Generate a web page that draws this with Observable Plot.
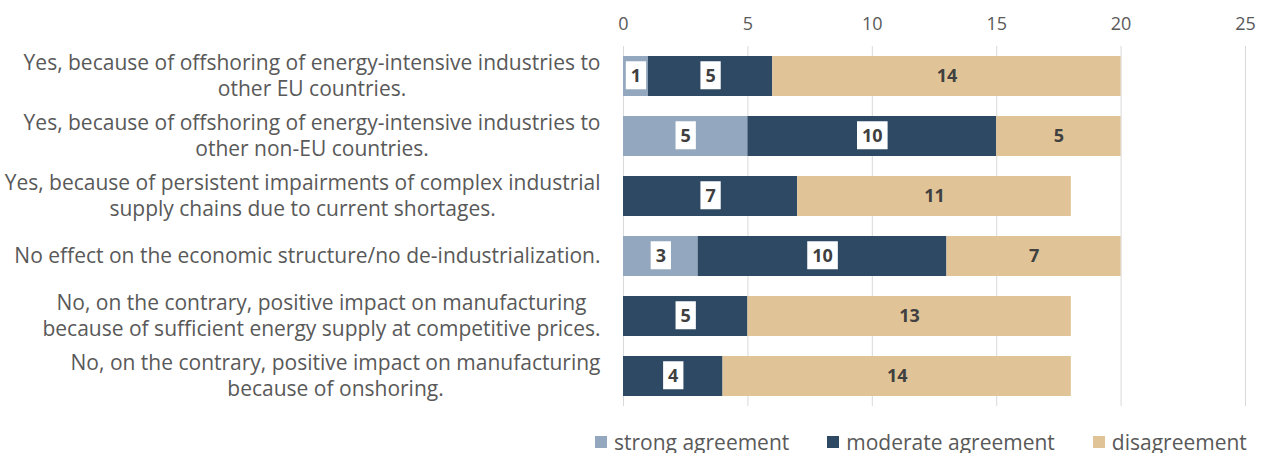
<!DOCTYPE html>
<html><head><meta charset="utf-8">
<script src="https://cdn.jsdelivr.net/npm/d3@7"></script>
<script src="https://cdn.jsdelivr.net/npm/@observablehq/plot@0.6"></script>
<style>
body{margin:0;background:#fff;font-family:"Open Sans",sans-serif;overflow:hidden;}
#chart svg{display:block;}
#legend{display:flex;align-items:center;height:22px;line-height:22px;margin-top:19px;padding-left:595px;font-size:21px;color:#595959;white-space:nowrap;}
#legend .item{display:flex;align-items:center;margin-right:38px;}
#legend .sw{width:12px;height:12px;margin-right:7px;}
</style></head><body><div id="chart"></div><div id="legend"></div>
<script>
const categories = [
  "Yes, because of offshoring of energy-intensive industries to\nother EU countries.",
  "Yes, because of offshoring of energy-intensive industries to\nother non-EU countries.",
  "Yes, because of persistent impairments of complex industrial\nsupply chains due to current shortages.",
  "No effect on the economic structure/no de-industrialization.",
  "No, on the contrary, positive impact on manufacturing\nbecause of sufficient energy supply at competitive prices.",
  "No, on the contrary, positive impact on manufacturing\nbecause of onshoring."
];
const series = ["strong agreement", "moderate agreement", "disagreement"];
const strong = [1, 5, 0, 3, 0, 0];
const moderate = [5, 10, 7, 10, 5, 4];
const disagreement = [14, 5, 11, 7, 13, 14];
const xTicks = [0, 5, 10, 15, 20, 25];
const colors = ["#93a8be", "#2e4964", "#e0c497"];

const rows = [];
categories.forEach((c, i) => {
  [strong, moderate, disagreement].forEach((arr, j) => {
    if (arr[i] > 0) rows.push({q: c, s: series[j], v: arr[i]});
  });
});

const BOX_FILL = "#3f3f3f", PLAIN_FILL = "#404040", YLAB_FILL = "#595959";
const font = '"Open Sans", sans-serif';
const plot = Plot.plot({
  width: 1263, height: 412,
  marginLeft: 623, marginRight: 18, marginTop: 46, marginBottom: 6,
  style: {fontFamily: font, background: "white"},
  x: {domain: [0, 25], label: null},
  y: {domain: categories, paddingInner: 1/3, paddingOuter: 1/6, axis: null},
  color: {domain: series, range: colors},
  marks: [
    Plot.ruleX(xTicks, {stroke: "#d9d9d9", strokeWidth: 1}),
    Plot.axisX({anchor: "top", ticks: xTicks, tickSize: 0, tickPadding: 17, fontSize: 18, fill: "#595959", label: null}),
    Plot.barX(rows, Plot.stackX({x: "v", y: "q", fill: "s", order: series})),
    Plot.text(rows, Plot.stackX({x: "v", y: "q", z: "s", order: series,
      text: d => d.s === "disagreement" ? null : String(d.v),
      fill: BOX_FILL, fontWeight: "bold", fontSize: 18})),
    Plot.text(rows, Plot.stackX({x: "v", y: "q", z: "s", order: series,
      text: d => d.s === "disagreement" ? String(d.v) : null,
      fill: PLAIN_FILL, fontWeight: "bold", fontSize: 18})),
    Plot.text(categories, {y: d => d, text: d => d, frameAnchor: "left", dx: -23, dy: -2,
      textAnchor: "end", lineHeight: 1.24, fontSize: 21, fill: YLAB_FILL})
  ]
});
document.getElementById("chart").appendChild(plot);

const flatCats = categories.map(c => c.replace(/\n/g, ""));

plot.querySelectorAll("text").forEach(t => {
  const g = t.closest("g");
  const gf = g ? (g.getAttribute("fill") || "") : "";
  const tf = t.getAttribute("fill") || "";
  const fill = (tf || gf).toLowerCase();
  if (fill === BOX_FILL) {
    const b = t.getBBox();
    const r = document.createElementNS("http://www.w3.org/2000/svg", "rect");
    const h = 28, padX = 5;
    r.setAttribute("x", b.x - padX);
    r.setAttribute("y", b.y + b.height / 2 - h / 2);
    r.setAttribute("width", b.width + 2 * padX);
    r.setAttribute("height", h);
    r.setAttribute("fill", "white");
    const tr = t.getAttribute("transform");
    if (tr) r.setAttribute("transform", tr);
    t.parentNode.insertBefore(r, t);
  } else if (flatCats.includes(t.textContent)) {
    const w = t.getBBox().width;
    t.setAttribute("text-anchor", "middle");
    const spans = t.querySelectorAll("tspan");
    if (spans.length) spans.forEach(s => s.setAttribute("x", -w / 2));
    else t.setAttribute("x", -w / 2);
  }
});

const legend = document.getElementById("legend");
series.forEach((s, i) => {
  const it = document.createElement("div"); it.className = "item";
  const sw = document.createElement("div"); sw.className = "sw"; sw.style.background = colors[i];
  const lb = document.createElement("span"); lb.textContent = s;
  it.appendChild(sw); it.appendChild(lb); legend.appendChild(it);
});
</script>
</body></html>
